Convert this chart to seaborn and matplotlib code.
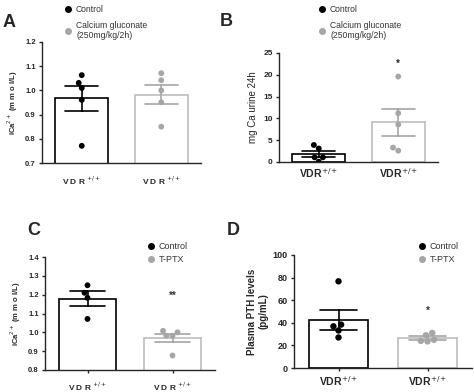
import pandas as pd
import matplotlib
matplotlib.use("Agg")
import matplotlib.pyplot as plt
from matplotlib.lines import Line2D
import seaborn as sns

# data (individual animals)
a_groups = ["Control", "Calcium gluconate"]
a_control = [1.063, 1.031, 1.010, 0.961, 0.771]
a_calcium = [1.071, 1.042, 1.000, 0.951, 0.850]

b_groups = ["Control", "Calcium gluconate"]
b_control = [3.9, 3.1, 1.07, 1.07, 0.08]
b_calcium = [19.6, 11.2, 8.6, 3.3, 2.6]

c_groups = ["Control", "T-PTX"]
c_control = [1.250, 1.210, 1.183, 1.071]
c_tptx = [1.008, 1.000, 0.982, 0.982, 0.877]

d_groups = ["Control", "T-PTX"]
d_control = [76.7, 38.4, 36.9, 33.2, 27.0]
d_tptx = [31.0, 29.0, 25.0, 24.0, 23.5]

colors = ["black", "#a6a6a6"]
edge_colors = ["black", "#bdbdbd"]

sns.set_style("ticks")
plt.rcParams["font.family"] = ["Liberation Sans", "DejaVu Sans"]
plt.rcParams["axes.linewidth"] = 1.0

fig = plt.figure(figsize=(4.74, 3.92), dpi=100)
W, H = 474, 392


def add_ax(left, right, top, bottom):
    return fig.add_axes([left / W, 1 - bottom / H, (right - left) / W, (bottom - top) / H])


def panel(ax, groups, values, dot_size):
    df = pd.DataFrame({
        "group": [groups[0]] * len(values[0]) + [groups[1]] * len(values[1]),
        "value": values[0] + values[1],
    })
    for i, g in enumerate(groups):
        sns.barplot(data=df[df.group == g], x="group", y="value", order=groups,
                    errorbar="se", width=0.67, capsize=0.42,
                    facecolor="white", edgecolor=edge_colors[i], linewidth=1.2,
                    err_kws={"color": colors[i], "linewidth": 1.2}, ax=ax)
    sns.swarmplot(data=df, x="group", y="value", order=groups, hue="group",
                  palette=colors, size=dot_size, legend=False, ax=ax, zorder=4)
    ax.set_xlim(-0.5, 1.5)
    ax.set_xlabel("")
    sns.despine(ax=ax)
    return ax


def legend(ax, labels, x, y, fs, spacing):
    handles = [Line2D([], [], marker="o", ls="", color=c, markersize=4) for c in colors]
    ax.legend(handles, labels, loc="upper left", bbox_to_anchor=(x / W, 1 - y / H),
              bbox_transform=fig.transFigure, frameon=False, fontsize=fs,
              handletextpad=0.4, handlelength=1.0, borderpad=0, borderaxespad=0,
              labelspacing=spacing, labelcolor="#333333")


small_bold = {"fontsize": 5.5, "fontweight": "bold"}

# A
axA = panel(add_ax(42, 201, 42, 163), a_groups, [a_control, a_calcium], 4.2)
axA.set_ylim(0.7, 1.2)
axA.set_yticks([0.7, 0.8, 0.9, 1.0, 1.1, 1.2])
axA.set_yticklabels(["0.7", "0.8", "0.9", "1.0", "1.1", "1.2"], **small_bold)
axA.set_xticks([0, 1])
axA.set_xticklabels(["V D R $^{+ / +}$"] * 2, fontsize=6, fontweight="bold")
axA.tick_params(axis="x", length=0, pad=8)
axA.tick_params(axis="y", length=2.5, width=1.0, pad=2)
axA.set_ylabel("iCa$^{2+}$ (m m o l/L)", fontsize=5.5, fontweight="bold", labelpad=4)
legend(axA, ["Control", "Calcium gluconate\n(250mg/kg/2h)"], 64, 5, 6.2, 0.8)

# B
axB = panel(add_ax(279, 438, 53, 162), b_groups, [b_control, b_calcium], 4.2)
axB.set_ylim(0, 25)
axB.set_yticks([0, 5, 10, 15, 20, 25])
axB.set_yticklabels(["0", "5", "10", "15", "20", "25"], fontsize=6, fontweight="bold")
axB.set_xticks([0, 1])
axB.set_xticklabels(["VDR$^{+/+}$"] * 2, fontsize=7.5, fontweight="bold")
axB.tick_params(axis="x", length=0, pad=3)
axB.tick_params(axis="y", length=2.5, width=1.0, pad=2)
axB.set_ylabel("mg Ca urine 24h", fontsize=7, labelpad=4)
axB.text(1, 22.6, "*", ha="center", va="center", fontsize=7, fontweight="bold")
legend(axB, ["Control", "Calcium gluconate\n(250mg/kg/2h)"], 318, 5, 6.2, 0.8)

# C
axC = panel(add_ax(45, 215, 257, 370), c_groups, [c_control, c_tptx], 4.2)
axC.set_ylim(0.8, 1.4)
axC.set_yticks([0.8, 0.9, 1.0, 1.1, 1.2, 1.3, 1.4])
axC.set_yticklabels(["0.8", "0.9", "1.0", "1.1", "1.2", "1.3", "1.4"], **small_bold)
axC.set_xticks([0, 1])
axC.set_xticklabels(["V D R $^{+ / +}$"] * 2, fontsize=6, fontweight="bold")
axC.tick_params(axis="x", length=2.5, width=1.0, pad=5)
axC.tick_params(axis="y", length=2.5, width=1.0, pad=2)
axC.set_ylabel("iCa$^{2+}$ (m m o l/L)", fontsize=5.5, fontweight="bold", labelpad=4)
axC.text(1, 1.195, "**", ha="center", va="center", fontsize=7, fontweight="bold",
         color="#333333")
legend(axC, ["Control", "T-PTX"], 146, 242, 6.5, 0.45)

# D
axD = panel(add_ax(294, 472, 255, 368), d_groups, [d_control, d_tptx], 4.6)
axD.set_ylim(0, 100)
axD.set_yticks([0, 20, 40, 60, 80, 100])
axD.set_yticklabels(["0", "20", "40", "60", "80", "100"], fontsize=6.5, fontweight="bold")
axD.set_xticks([0, 1])
axD.set_xticklabels(["VDR$^{+/+}$"] * 2, fontsize=7.5, fontweight="bold")
axD.tick_params(axis="x", length=2.5, width=1.0, pad=2)
axD.tick_params(axis="y", length=2.5, width=1.0, pad=2)
axD.set_ylabel("Plasma PTH levels\n(pg/mL)", fontsize=7, fontweight="bold", labelpad=3)
axD.text(1, 50.3, "*", ha="center", va="center", fontsize=7, fontweight="bold",
         color="#333333")
legend(axD, ["Control", "T-PTX"], 417, 242, 6.5, 0.45)

# panel letters
for letter, x, y in [("A", 3, 27), ("B", 220, 26), ("C", 27, 235), ("D", 227, 235)]:
    fig.text(x / W, 1 - y / H, letter, fontsize=13, fontweight="bold")

fig.savefig("out.png", dpi=100)
